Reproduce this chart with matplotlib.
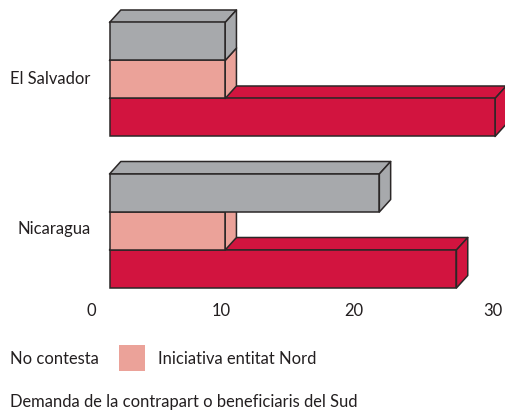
import matplotlib
matplotlib.use("Agg")
import matplotlib.pyplot as plt
from matplotlib.patches import Rectangle

plt.rcParams['font.family'] = ['Lato', 'DejaVu Sans']

categories = ["El Salvador", "Nicaragua"]
no_contesta = [9, 21]
iniciativa = [9, 9]
demanda = [30, 27]
tick_labels = ["0", "10", "20", "30"]
tick_positions = [-1.44, 8.7, 19.03, 29.84]
legend_labels = ["No contesta", "Iniciativa entitat Nord", "Demanda de la contrapart o beneficiaris del Sud"]

GREY, PINK, RED = "#A7A9AC", "#EBA299", "#D2143F"
EDGE = "#2b2727"
W, H = 505, 411
SX, SY = 12.85, 38.0          # pixels per x unit / per bar height
DX, DY = 11.3 / SX, 12.5 / SY  # depth of the 3D effect
GROUP_GAP = 151.5 / SY
ZERO_PX = 109.5

fig = plt.figure(figsize=(W / 100, H / 100), dpi=100)
left, top, bottom = 88.0, 4.0, 288.0
ax = fig.add_axes([left / W, 1 - bottom / H, (W - left) / W, (bottom - top) / H])
y0 = (79.5 - top) / SY


def bar3d(y, value, color, z):
    ax.fill([0, DX, value + DX, value], [y - .5, y - .5 - DY, y - .5 - DY, y - .5],
            fc=color, ec=EDGE, lw=1.1, zorder=z, clip_on=False, joinstyle="round")
    ax.fill([value, value + DX, value + DX, value],
            [y - .5, y - .5 - DY, y + .5 - DY, y + .5],
            fc=color, ec=EDGE, lw=1.1, zorder=z, clip_on=False, joinstyle="round")
    ax.barh(y, value, height=1, color=color, edgecolor=EDGE, lw=1.1, zorder=z + .5, clip_on=False)


centres = [i * GROUP_GAP for i in range(len(categories))]
for c, g, p, r in zip(centres, no_contesta, iniciativa, demanda):
    bar3d(c + 1, r, RED, 2)
    bar3d(c, p, PINK, 3)
    bar3d(c - 1, g, GREY, 4)

for s in ax.spines.values():
    s.set_visible(False)
ax.patch.set_visible(False)
FS = 11.9
TC = "#231f20"
ax.set_xticks(tick_positions, tick_labels, fontsize=FS, color=TC)
ax.set_yticks([centres[0] - 0.04, centres[1] - 0.09], categories, fontsize=FS, color=TC)
ax.tick_params(axis="both", length=0)
ax.tick_params(axis="x", pad=10.5)
ax.tick_params(axis="y", pad=-2)
ax.set_xlim((left - ZERO_PX) / SX, (W - ZERO_PX) / SX)
ax.set_ylim((bottom - top) / SY - y0, -y0)

fig.patches.append(Rectangle((119 / W, 1 - 371 / H), 26 / W, 26 / H, transform=fig.transFigure,
                             fc=PINK, ec="none"))
fig.text(10 / W, 1 - 359 / H, legend_labels[0], fontsize=FS, color=TC, va="center")
fig.text(158 / W, 1 - 359 / H, legend_labels[1], fontsize=FS, color=TC, va="center")
fig.text(10 / W, 1 - 402 / H, legend_labels[2], fontsize=FS, color=TC, va="center")

fig.savefig("out.png", dpi=100)
